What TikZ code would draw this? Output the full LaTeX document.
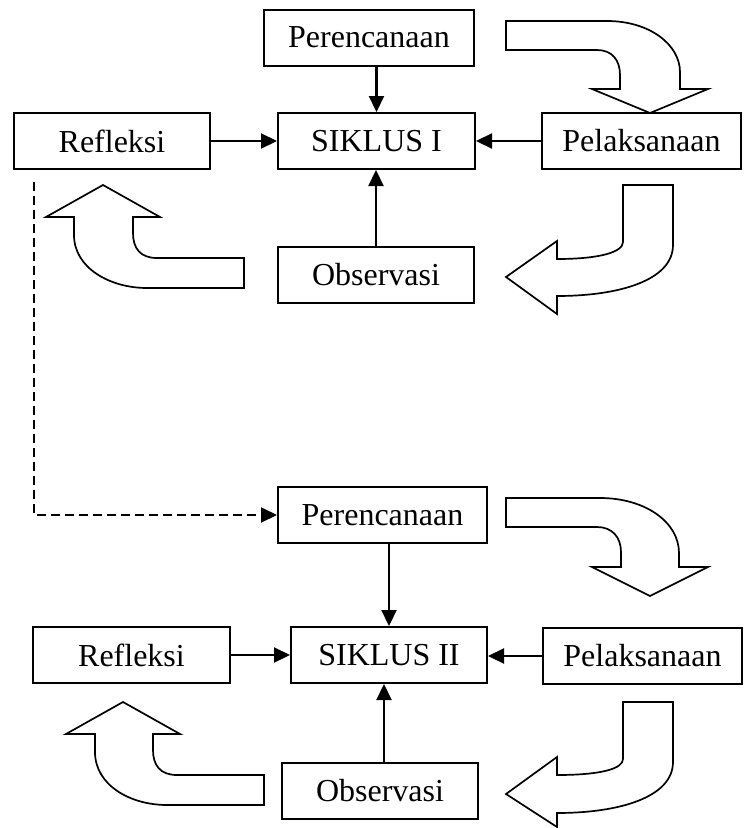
\documentclass[tikz,border=0pt]{standalone}
\usepackage{fontspec}
\setmainfont{Liberation Serif}
\usetikzlibrary{arrows.meta}
\begin{document}
\begin{tikzpicture}[x=1pt,y=-1pt,
  box/.style={draw,line width=2pt,minimum height=56pt,inner sep=0pt,font=\fontsize{32}{38}\selectfont},
  conn/.style={line width=2.2pt,-{Triangle[length=16pt,width=15pt]}},
  bigarrow/.style={draw,line width=1.7pt,line join=miter,fill=white}]
\useasboundingbox (0,0) rectangle (746,828);
% cycle I
\node[box,minimum width=210pt] (per1) at (369,37.5) {Perencanaan};
\node[box,minimum width=197pt] (sik1) at (376.5,141) {SIKLUS I};
\node[box,minimum width=196pt] (ref1) at (112,141) {Refleksi};
\node[box,minimum width=199pt] (pel1) at (641.5,141) {Pelaksanaan};
\node[box,minimum width=196pt] (obs1) at (376,275) {Observasi};
\draw[conn] (sik1.north |- per1.south) -- (sik1.north);
\draw[conn] (obs1.north) -- (obs1.north |- sik1.south);
\draw[conn] (ref1.east) -- (sik1.west);
\draw[conn] (pel1.west) -- (sik1.east);
% cycle II
\node[box,minimum width=209pt] (per2) at (382.5,515) {Perencanaan};
\node[box,minimum width=196pt] (sik2) at (389,655) {SIKLUS II};
\node[box,minimum width=197pt] (ref2) at (131.5,655) {Refleksi};
\node[box,minimum width=199pt] (pel2) at (642.5,656) {Pelaksanaan};
\node[box,minimum width=196pt] (obs2) at (380,791) {Observasi};
\draw[conn] (sik2.north |- per2.south) -- (sik2.north);
\draw[conn] (obs2.north -| 384,0) -- (384,0 |- sik2.south);
\draw[conn] (ref2.east) -- (sik2.west);
\draw[conn] (pel2.west) -- (pel2.west -| sik2.east);
% dashed link
\coordinate (d0) at (34,182);
\draw[conn,line width=2pt,dash pattern=on 9pt off 5pt] (d0) |- (per2.west);
% block arrows cycle I
\draw[bigarrow] (506,21) -- (607,21) .. controls (650,21) and (680,45) .. (680,72)
  -- (680,89) -- (708,89) -- (650,113) -- (592,89) -- (620,89) -- (620,75)
  .. controls (620,60) and (612,50) .. (597,50) -- (506,50) -- cycle;
\draw[bigarrow] (623,185) -- (673,185) -- (673,245)
  .. controls (673,280) and (620,296) .. (557,296) -- (557,314) -- (506,277)
  -- (557,241) -- (557,259) .. controls (600,259) and (623,252) .. (623,242) -- cycle;
\draw[bigarrow] (244,288) -- (147,288) .. controls (110,288) and (74,268) .. (74,235)
  -- (74,217) -- (46,217) -- (103,185) -- (160,217) -- (133,217) -- (133,233)
  .. controls (133,248) and (140,258) .. (157,258) -- (244,258) -- cycle;
% block arrows cycle II
\draw[bigarrow] (506,498) -- (600,498) .. controls (645,498) and (679,522) .. (679,553)
  -- (679,567) -- (708,567) -- (650,596) -- (592,567) -- (621,567) -- (621,552)
  .. controls (621,537) and (612,527) .. (597,527) -- (506,527) -- cycle;
\draw[bigarrow] (623,702) -- (673,702) -- (673,762)
  .. controls (673,797) and (620,813) .. (557,813) -- (557,827) -- (506,794)
  -- (557,757) -- (557,775) .. controls (600,775) and (623,769) .. (623,759) -- cycle;
\draw[bigarrow] (264,805) -- (167,805) .. controls (130,805) and (95,785) .. (95,752)
  -- (95,734) -- (66,734) -- (123,702) -- (180,734) -- (153,734) -- (153,750)
  .. controls (153,765) and (160,775) .. (177,775) -- (264,775) -- cycle;
\end{tikzpicture}
\end{document}
